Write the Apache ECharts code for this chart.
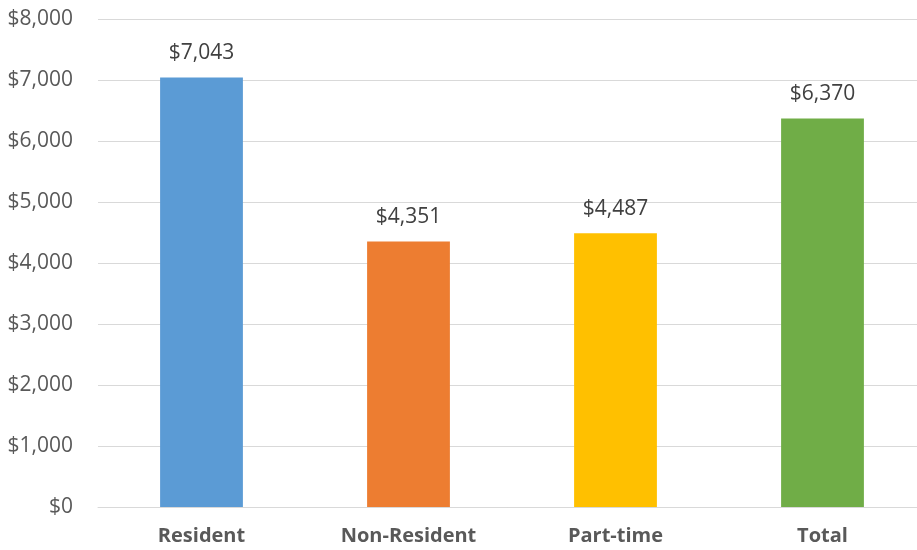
<!DOCTYPE html>
<html>
<head>
<meta charset="utf-8">
<style>html,body{margin:0;padding:0;background:#fff}#c{width:917px;height:550px}</style>
<script src="https://cdn.jsdelivr.net/npm/echarts@6/dist/echarts.min.js"></script>
</head>
<body>
<div id="c"></div>
<script>
const categories = ['Resident', 'Non-Resident', 'Part-time', 'Total'];
const values = [7043, 4351, 4487, 6370];
const barColors = ['#5B9BD5', '#ED7D31', '#FFC000', '#70AD47'];
const yTicks = { min: 0, max: 8000, interval: 1000 };

const fmt = v => '$' + Number(v).toLocaleString('en-US');
const chart = echarts.init(document.getElementById('c'), null, { renderer: 'canvas' });
chart.setOption({
  animation: false,
  backgroundColor: '#ffffff',
  grid: { left: 98, top: 19, right: -9, bottom: 43, containLabel: false, outerBoundsMode: 'none' },
  xAxis: {
    type: 'category',
    data: categories,
    axisLine: { show: true, lineStyle: { color: '#D9D9D9', width: 1 } },
    axisTick: { show: false },
    axisLabel: { color: '#595959', fontFamily: 'Open Sans', fontSize: 20, fontWeight: 'bold', margin: 19 }
  },
  yAxis: {
    type: 'value',
    min: yTicks.min, max: yTicks.max, interval: yTicks.interval,
    axisLine: { show: false },
    axisTick: { show: false },
    splitLine: { lineStyle: { color: '#D9D9D9', width: 1 } },
    axisLabel: { color: '#595959', fontFamily: 'Open Sans', fontSize: 21, margin: 25, formatter: fmt }
  },
  series: [{
    type: 'bar',
    barWidth: '40%',
    data: values.map((v, i) => ({ value: v, itemStyle: { color: barColors[i] } })),
    label: {
      show: true, position: 'top', distance: 14,
      color: '#404040', fontFamily: 'Open Sans', fontSize: 21,
      formatter: p => fmt(p.value)
    }
  }]
});
</script>
</body>
</html>
